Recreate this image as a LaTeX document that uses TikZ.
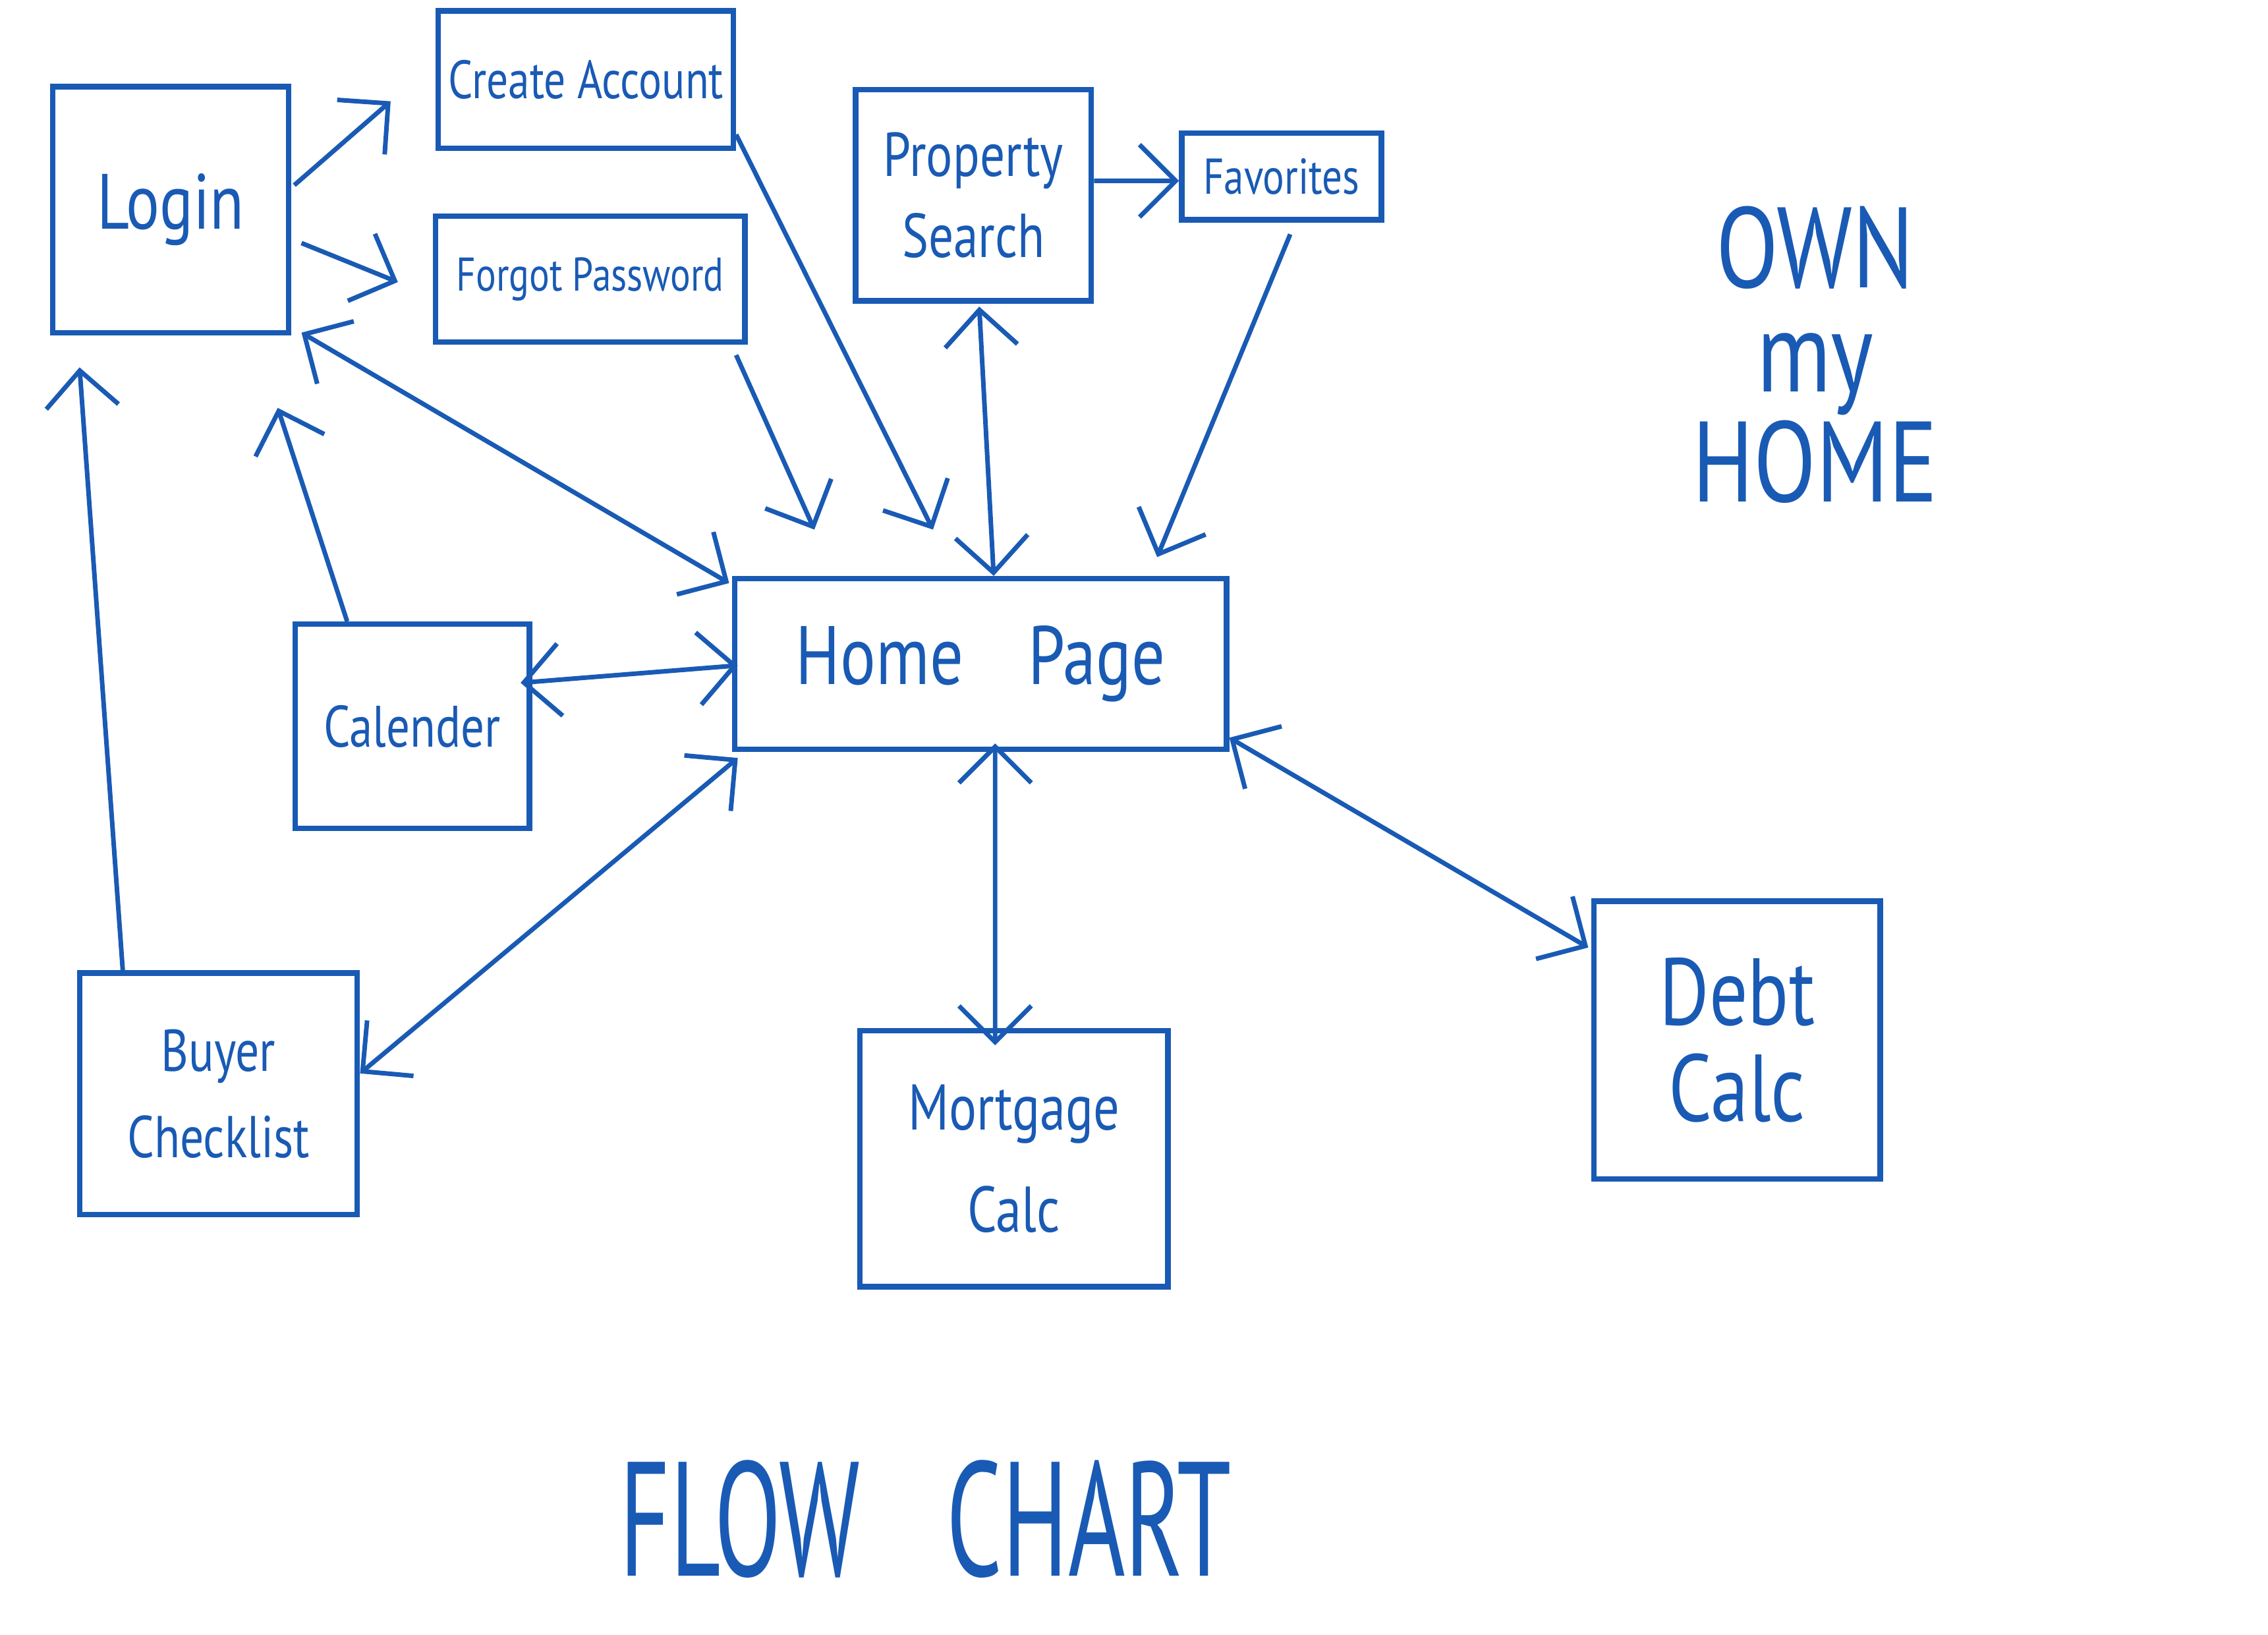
\documentclass[tikz,border=0pt]{standalone}
\usepackage{fontspec}
\setmainfont[FakeStretch=0.8]{PT Sans}
\newfontfamily\tallfont[FakeStretch=0.6]{PT Sans}
\usetikzlibrary{arrows.meta,positioning}
\definecolor{pen}{RGB}{25,90,180}

\begin{document}
\begin{tikzpicture}[x=0.1mm,y=-0.1mm,on grid,
		>={Straight Barb[length=2.5mm,width=5mm]},
		box/.style={draw=pen,line width=1.1pt,text=pen,align=center,inner sep=0pt},
		flow/.style={pen,line width=0.9pt,->},
		both/.style={pen,line width=0.9pt,<->}]
					\useasboundingbox (0,0) rectangle (1568,1130);
					\node[box,minimum width=34mm,minimum height=11.8mm,font=\fontsize{16.3}{19}\selectfont] (homepg) at (678,459) {Home\hspace{4.5mm}Page};
					\node[box,minimum width=16.3mm,minimum height=17mm,font=\fontsize{15.4}{18}\selectfont] (login) [above left=31.4mm and 56mm of homepg] {Login};
					\node[box,minimum width=20.4mm,minimum height=9.5mm,font=\fontsize{10.6}{12}\selectfont] (create) [above left=40.4mm and 27.3mm of homepg] {Create Account};
					\node[box,minimum width=21.4mm,minimum height=8.7mm,font=\fontsize{9.3}{11}\selectfont] (forgot) [above left=26.6mm and 27mm of homepg] {Forgot Password};
					\node[box,minimum width=16.3mm,minimum height=14.6mm,font=\fontsize{12.2}{16}\selectfont] (search) [above left=32.4mm and 0.5mm of homepg] {Property\\Search};
					\node[box,minimum width=13.8mm,minimum height=6mm,font=\fontsize{9.9}{11}\selectfont] (favs) [above right=33.7mm and 20.8mm of homepg] {Favorites};
					\node[box,minimum width=16.2mm,minimum height=14.1mm,font=\fontsize{11.5}{13}\selectfont] (calender) [below left=4.3mm and 39.3mm of homepg] {Calender};
					\node[box,minimum width=19.2mm,minimum height=16.7mm,font=\fontsize{11.6}{17}\selectfont] (checklist) [below left=29.7mm and 52.7mm of homepg] {Buyer\\Checklist};
					\node[box,minimum width=21.3mm,minimum height=17.7mm,font=\fontsize{12.7}{20}\selectfont] (mortgage) [below right=34.2mm and 2.3mm of homepg] {Mortgage\\Calc};
					\node[box,minimum width=19.8mm,minimum height=19.2mm,font=\fontsize{18.7}{19}\selectfont] (debt) [below right=26mm and 52.3mm of homepg] {Debt\\Calc};
					\node[text=pen,align=center,font=\fontsize{22.5}{20.5}\selectfont] (title) [above right=21.4mm and 57.7mm of homepg] {OWN\\my\\HOME};
					\node[text=pen,font=\tallfont\fontsize{32}{34}\selectfont] (chart) [below left=59.1mm and 3.8mm of homepg] {FLOW\hspace{6mm}CHART};
					% login page
					\draw[flow] ([shift={(2,-17)}]login.east) -- ([shift={(-31,15)}]create.west);
					\draw[flow] ([shift={(7,23)}]login.east) -- ([shift={(-24,2)}]forgot.west);
					\draw[flow] ([shift={(0,38)}]create.east) -- ([shift={(-33,-32)}]homepg.north);
					\draw[flow] ([shift={(-8,7)}]forgot.south east) -- ([shift={(-115,-32)}]homepg.north);
					% search
					\draw[both] ([shift={(4,2)}]search.south) -- ([shift={(9,0)}]homepg.north);
					\draw[flow] ([shift={(0,-10)}]search.east) -- ([shift={(0,3)}]favs.west);
					\draw[flow] ([shift={(6,8)}]favs.south) -- ([shift={(122,-13)}]homepg.north);
					% back to login
					\draw[both] ([shift={(-2,5)}]homepg.north west) -- ([shift={(7,-2)}]login.south east);
					\draw[flow] ([shift={(-45,0)}]calender.north) -- ([shift={(74,50)}]login.south);
					\draw[flow] ([shift={(-66,2)}]checklist.north) -- ([shift={(-63,22)}]login.south);
					% tools
					\draw[both] ([shift={(-8,-30)}]calender.east) -- ([shift={(4,1)}]homepg.west);
					\draw[both] ([shift={(4,4)}]homepg.south west) -- ([shift={(0,-14)}]checklist.east);
					\draw[both] ([shift={(10,-6)}]homepg.south) -- ([shift={(-13,12)}]mortgage.north);
					\draw[both] ([shift={(0,-10)}]homepg.south east) -- ([shift={(-2,-64)}]debt.west);
				\end{tikzpicture}
\end{document}
